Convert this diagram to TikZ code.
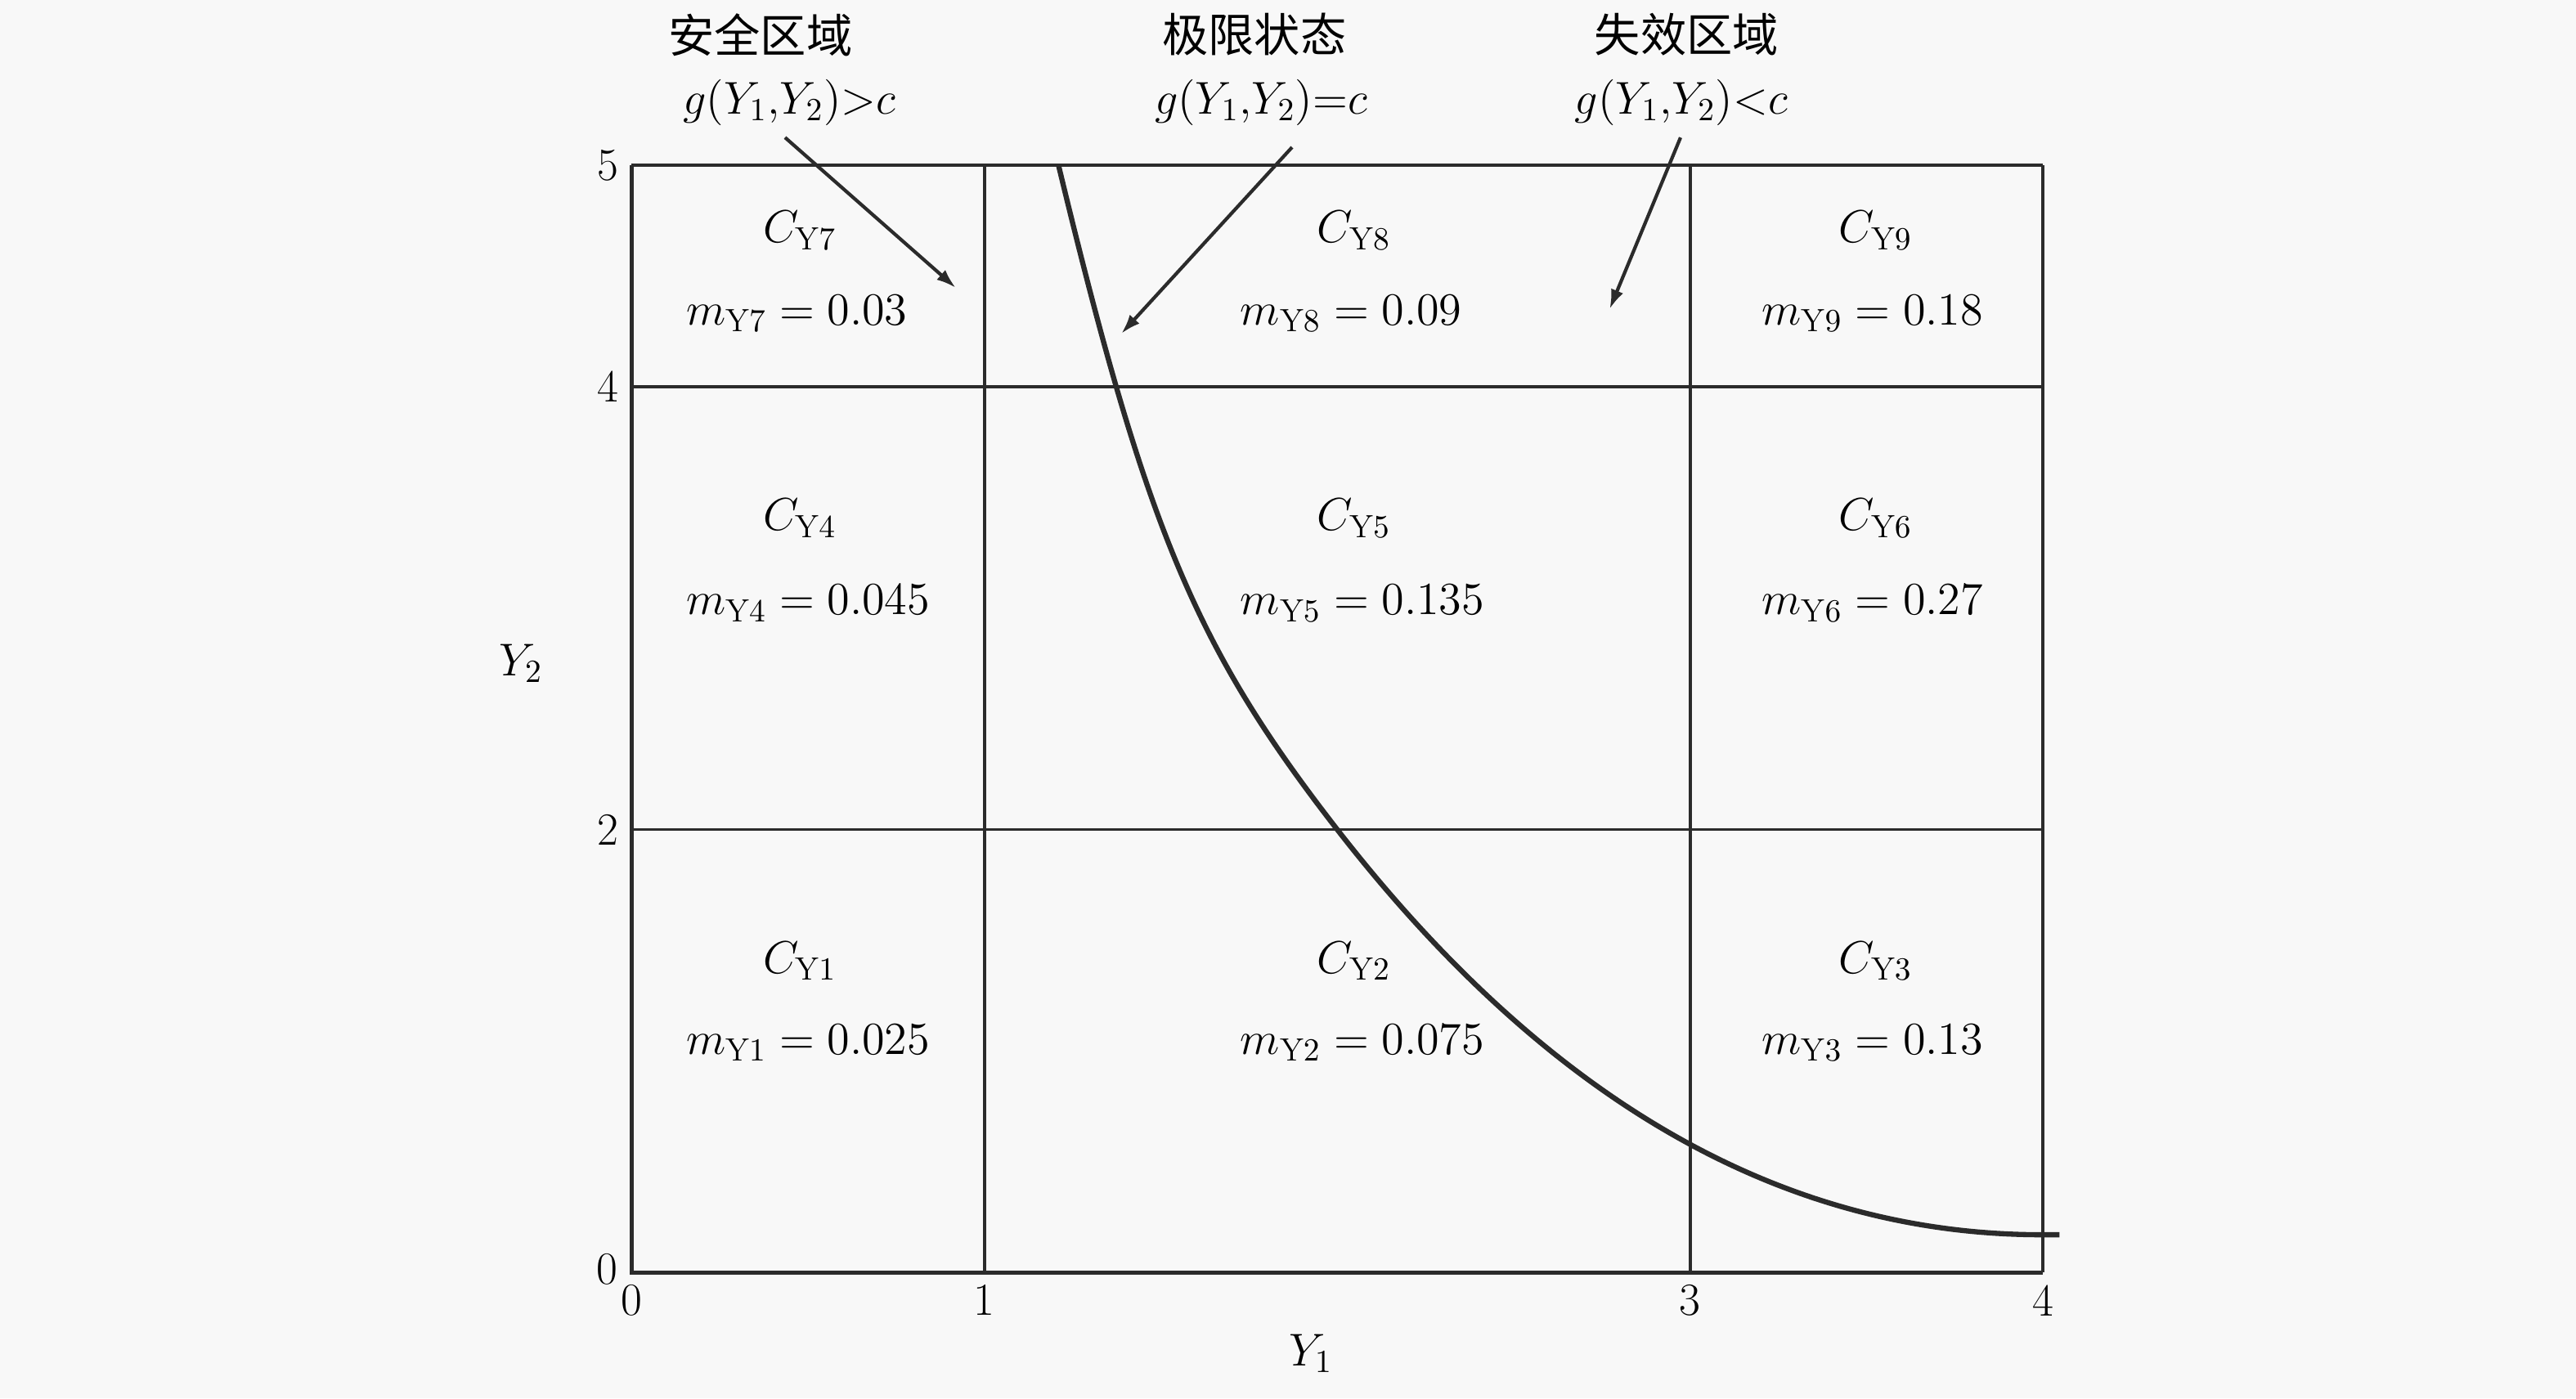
\RequirePackage{fix-cm}
\documentclass[tikz,border=0pt]{standalone}
\usepackage{fontspec}
\newfontfamily\cjk{Noto Sans CJK SC}
\usetikzlibrary{arrows.meta}
\definecolor{ink}{HTML}{2B2B2B}
\definecolor{paper}{HTML}{F8F8F8}

\begin{document}
\begin{tikzpicture}[x=4.314cm,y=2.708cm,font=\fontsize{16}{19}\selectfont,
      grid/.style={ink,line width=1.1pt},
      axis/.style={ink,line width=1.4pt},
      lbl/.style={inner sep=1pt},
      ptr/.style={-{Latex[length=2.4mm,width=1.6mm]},ink,line width=1.2pt}]
    \fill[paper] (-1.790,-0.569) rectangle (5.511,5.746);
    \useasboundingbox (-1.790,-0.569) rectangle (5.511,5.746);
    % cells
    \foreach \y in {2,4,5} \draw[grid] (0,\y) -- (4,\y);
    \foreach \x in {1,3,4} \draw[grid] (\x,0) -- (\x,5);
    \draw[axis] (0,5) -- (0,0) -- (4,0);
    % ticks
    \foreach \y in {5,4,2} \node[lbl] (ty\y) at (-0.068,\y) {\y};
    \node[lbl] (ty0) at (-0.07,0.015) {0};
    \foreach \x in {0,1,3,4} \node[lbl] (tx\x) at (\x,-0.126) {\x};
    \node[lbl] (yone) at (1.925,-0.366) {$Y_1$};
    \node[lbl] (ytwo) at (-0.314,2.75) {$Y_2$};
    % limit state curve
    \draw[ink,line width=1.8pt] (1.21,5) .. controls (1.46,3.35) and (1.6,2.82) .. (2,2)
      .. controls (2.7,0.565) and (3.4,0.17) .. (4,0.17) -- (4.047,0.17);
    \foreach \k/\cx/\cy/\my/\v in {1/0.145/1.35/0.985/0.025,2/1.716/1.35/0.985/0.075,
        3/3.194/1.35/0.985/0.13,4/0.145/3.35/2.97/0.045,5/1.716/3.35/2.97/0.135,
        6/3.194/3.35/2.97/0.27,7/0.145/4.65/4.28/0.03,8/1.716/4.65/4.28/0.09,
        9/3.194/4.65/4.28/0.18}{
      \node[lbl,anchor=base west] (c\k) at (\cx+0.218,\cy) {$C_{\mathrm{Y}\k}$};
      \node[lbl,anchor=base west] (m\k) at (\cx,\my) {$m_{\mathrm{Y}\k}=\v$};}
    % regions
    \node[lbl] (safe) at (0.365,5.589) {\cjk 安全区域};
    \node[lbl] (gsafe) at (0.447,5.284) {$g(Y_1{,}Y_2){>}c$};
    \node[lbl] (limit) at (1.765,5.589) {\cjk 极限状态};
    \node[lbl] (glimit) at (1.784,5.284) {$g(Y_1{,}Y_2){=}c$};
    \node[lbl] (fail) at (2.99,5.589) {\cjk 失效区域};
    \node[lbl] (gfail) at (2.975,5.284) {$g(Y_1{,}Y_2){<}c$};
    \coordinate (s1) at (0.435,5.125);
    \coordinate (e1) at (0.919,4.446);
    \coordinate (s2) at (1.872,5.081);
    \coordinate (e2) at (1.388,4.239);
    \coordinate (s3) at (2.973,5.125);
    \coordinate (e3) at (2.772,4.350);
    \foreach \i in {1,2,3} \draw[ptr] (s\i) -- (e\i);
  \end{tikzpicture}
\end{document}
